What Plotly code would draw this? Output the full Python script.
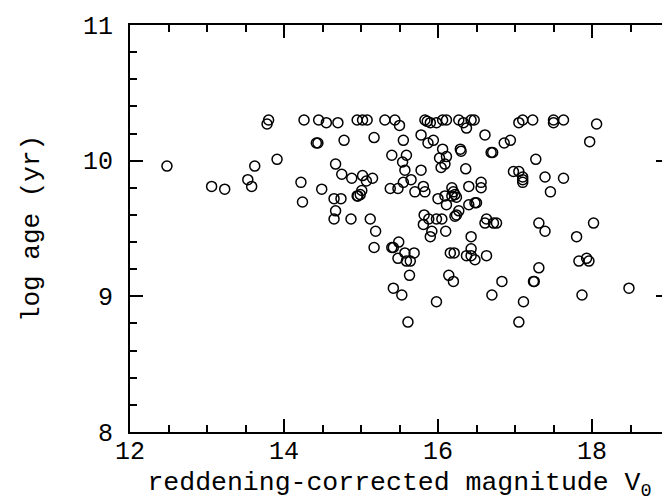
"""log age vs reddening-corrected magnitude"""
import plotly.graph_objects as go

# reddening-corrected magnitude V0
v0 = [12.48, 13.06, 13.23, 13.53, 13.58, 13.62, 13.80, 13.78, 13.91, 14.22,
      14.26, 14.45, 14.55, 14.70, 14.95, 15.02, 15.08, 15.31, 15.44, 15.50,
      15.83, 15.86, 15.90, 15.98, 16.06, 16.11, 16.27, 16.33, 16.37, 16.43,
      16.47, 17.05, 17.10, 17.23, 17.50, 17.50, 17.63, 18.06,
      14.42, 14.44, 14.78, 15.17, 15.55, 15.78, 15.87, 15.94, 16.06, 16.29,
      16.30, 16.61, 16.86, 16.94, 16.69, 16.71, 17.97, 17.27,
      14.67, 15.40, 15.59, 15.54, 16.02, 16.11, 16.09, 16.04, 15.57, 15.78,
      16.36, 16.98, 17.05, 17.10, 17.10, 17.10, 17.39, 17.63, 17.46,
      14.75, 14.88, 15.02, 15.07, 15.15, 15.65, 15.55, 15.38, 15.48, 15.70,
      15.81, 15.83, 14.49, 15.01, 14.99, 14.96, 14.95, 16.18, 16.20, 16.22,
      16.18, 16.24, 16.40, 16.56, 16.56,
      14.24, 14.65, 14.74, 16.00, 16.09, 16.11, 16.40, 16.48, 16.50, 14.67,
      14.65, 14.87, 15.12, 15.82, 15.88, 15.98, 16.05, 15.81, 16.27, 16.24,
      16.22, 15.19, 15.92, 15.90, 16.10, 16.43, 16.63, 16.61, 16.72, 16.76,
      17.31, 18.02, 17.39, 17.80,
      16.43, 16.37, 16.43, 16.48, 16.63, 17.83, 17.93, 17.96, 17.31, 16.83,
      17.25, 17.24, 18.48, 16.70, 17.87, 17.11, 17.05,
      15.17, 15.40, 15.42, 15.49, 15.57, 15.69, 15.48, 15.59, 15.64, 16.16,
      16.21, 15.63, 16.14, 16.20, 15.42, 15.53, 15.98, 15.61]

# log age (yr)
log_age = [9.96, 9.81, 9.79, 9.86, 9.81, 9.96, 10.30, 10.27, 10.01, 9.84,
           10.30, 10.30, 10.28, 10.28, 10.30, 10.30, 10.30, 10.30, 10.30, 10.26,
           10.30, 10.29, 10.28, 10.28, 10.30, 10.30, 10.30, 10.28, 10.24, 10.30,
           10.30, 10.28, 10.30, 10.30, 10.30, 10.28, 10.30, 10.27,
           10.13, 10.13, 10.15, 10.17, 10.15, 10.19, 10.13, 10.15, 10.085, 10.085,
           10.07, 10.19, 10.13, 10.15, 10.06, 10.06, 10.14, 10.01,
           9.975, 10.04, 10.04, 9.99, 10.02, 10.03, 9.975, 9.95, 9.93, 9.93,
           9.94, 9.92, 9.92, 9.88, 9.86, 9.84, 9.88, 9.87, 9.77,
           9.90, 9.87, 9.89, 9.85, 9.87, 9.86, 9.84, 9.795, 9.795, 9.77,
           9.81, 9.77, 9.79, 9.78, 9.75, 9.74, 9.74, 9.80, 9.77, 9.75,
           9.74, 9.73, 9.81, 9.84, 9.80,
           9.695, 9.72, 9.72, 9.72, 9.74, 9.675, 9.675, 9.69, 9.69, 9.63,
           9.57, 9.57, 9.57, 9.60, 9.57, 9.57, 9.57, 9.53, 9.63, 9.60,
           9.59, 9.48, 9.48, 9.44, 9.48, 9.44, 9.57, 9.54, 9.54, 9.54,
           9.54, 9.54, 9.48, 9.44,
           9.35, 9.30, 9.30, 9.27, 9.30, 9.26, 9.28, 9.26, 9.21, 9.11,
           9.11, 9.11, 9.06, 9.01, 9.01, 8.96, 8.81,
           9.36, 9.36, 9.36, 9.40, 9.32, 9.32, 9.28, 9.26, 9.26, 9.32,
           9.32, 9.155, 9.155, 9.11, 9.06, 9.01, 8.96, 8.81]

x_ticks = [12, 14, 16, 18]
y_ticks = [8, 9, 10, 11]

font_name = "Liberation Mono"

fig = go.Figure()
fig.add_trace(go.Scatter(
    x=v0, y=log_age, mode="markers",
    marker=dict(symbol="circle-open", size=10, color="black",
                line=dict(color="black", width=1.5)),
    showlegend=False,
))

axis_common = dict(
    showgrid=False, zeroline=False, automargin=False,
    showline=True, linecolor="black", linewidth=1.8, mirror="allticks",
    ticks="inside", ticklen=13, tickwidth=1.5, tickcolor="black",
    tickfont=dict(family=font_name, size=25, color="black"),
)

fig.update_xaxes(
    range=[12, 19], tickmode="array", tickvals=x_ticks,
    minor=dict(tickmode="linear", tick0=12, dtick=0.5, ticks="inside",
               ticklen=7, tickwidth=1.5, tickcolor="black"),
    ticklabelstandoff=-5,
    title=dict(text="reddening-corrected magnitude V<sub>0</sub>",
               font=dict(family=font_name, size=26.5, color="black"), standoff=6),
    **axis_common,
)
fig.update_yaxes(
    range=[8, 11], tickmode="array", tickvals=y_ticks,
    minor=dict(tickmode="linear", tick0=8, dtick=0.2, ticks="inside",
               ticklen=7, tickwidth=1.5, tickcolor="black"),
    ticklabelstandoff=10,
    title=dict(text="log age (yr)",
               font=dict(family=font_name, size=26, color="black"), standoff=36),
    **axis_common,
)

fig.update_layout(
    width=670, height=501,
    margin=dict(l=122, r=9, t=17, b=77),
    paper_bgcolor="white", plot_bgcolor="white",
)

fig.write_html("out.html")
